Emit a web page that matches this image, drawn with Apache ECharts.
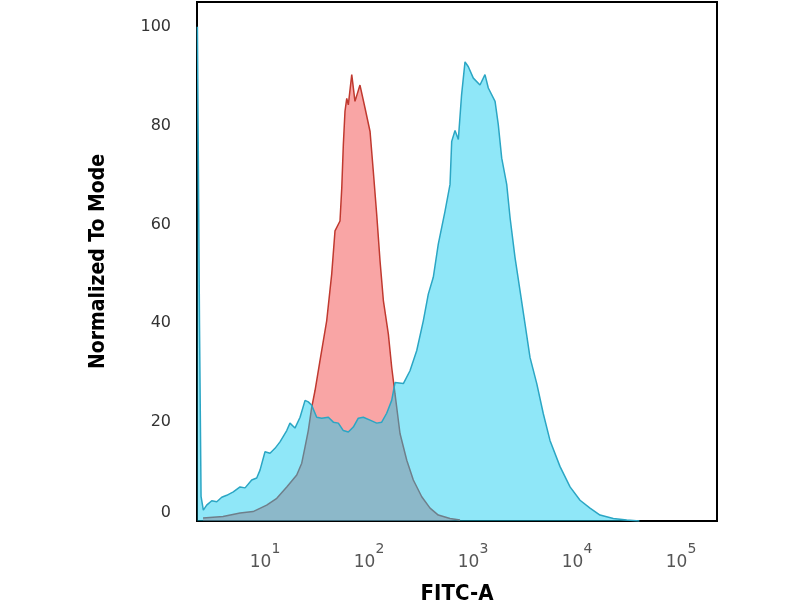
<!DOCTYPE html>
<html lang="en">
<head>
  <meta charset="UTF-8">
  <title>FITC-A histogram</title>
  <script src="https://cdn.jsdelivr.net/npm/echarts@6/dist/echarts.min.js"></script>
  <style>
    html, body { margin: 0; padding: 0; background: #fff; }
  </style>
</head>
<body>
  <div id="main" style="width:800px;height:600px;"></div>
  <script>
    // x positions are log10(FITC-A), y is % of mode
    var isoLog = [0.404, 0.596, 0.76, 0.885, 1.016, 1.113, 1.209, 1.305, 1.353, 1.385,
      1.416, 1.449, 1.481, 1.529, 1.593, 1.641, 1.673, 1.721, 1.738, 1.753,
      1.769, 1.786, 1.801, 1.834, 1.865, 1.913, 1.962, 2.01, 2.041, 2.074,
      2.106, 2.138, 2.186, 2.218, 2.25, 2.298, 2.363, 2.426, 2.507, 2.587,
      2.666, 2.779, 2.875];
    var isoVal = [0.6, 0.9, 1.6, 1.9, 3.2, 4.6, 6.9, 9.3, 11.7, 15.0,
      18.3, 23.0, 26.4, 32.5, 40.5, 49.9, 58.7, 60.7, 67.4, 76.1,
      82.9, 85.5, 84.2, 90.3, 84.9, 88.2, 83.5, 78.8, 70.8, 62.0,
      52.6, 44.6, 37.8, 31.1, 25.7, 17.7, 12.3, 8.3, 4.9, 2.6,
      1.2, 0.5, 0.2];

    var sampleLog = [0.35, 0.37, 0.385, 0.407, 0.439, 0.488, 0.536, 0.584, 0.632, 0.695,
      0.76, 0.808, 0.872, 0.92, 0.952, 1.0, 1.048, 1.096, 1.144, 1.209,
      1.24, 1.288, 1.337, 1.385, 1.416, 1.449, 1.497, 1.545, 1.609, 1.657,
      1.705, 1.753, 1.801, 1.849, 1.897, 1.945, 2.01, 2.074, 2.122, 2.17,
      2.218, 2.25, 2.33, 2.394, 2.459, 2.522, 2.57, 2.618, 2.666, 2.731,
      2.779, 2.795, 2.827, 2.859, 2.89, 2.923, 2.955, 3.003, 3.067, 3.115,
      3.147, 3.212, 3.243, 3.276, 3.324, 3.356, 3.404, 3.452, 3.5, 3.548,
      3.613, 3.676, 3.74, 3.837, 3.933, 4.029, 4.125, 4.221, 4.349, 4.478, 4.6];
    var sampleVal = [100, 40, 5, 2.2, 3.2, 4.1, 3.9, 4.8, 5.2, 5.9,
      6.9, 6.7, 8.3, 8.7, 10.3, 14.0, 13.7, 14.7, 16.0, 18.3,
      19.8, 18.8, 21.0, 24.4, 24.1, 23.4, 21.0, 20.8, 21.0, 20.0,
      19.8, 18.3, 18.0, 19.0, 20.8, 21.0, 20.4, 19.8, 20.0, 21.8,
      24.4, 28.0, 27.8, 30.4, 34.5, 40.5, 45.9, 49.3, 56.0, 62.7,
      68.1, 76.8, 79.0, 77.2, 86.2, 92.9, 91.9, 89.6, 88.2, 90.3,
      87.6, 84.9, 80.2, 73.4, 68.1, 61.4, 53.3, 46.6, 39.9, 33.1,
      27.8, 21.7, 16.3, 11.0, 6.9, 4.2, 2.6, 1.2, 0.5, 0.2, 0];

    var yTicks = [0, 20, 40, 60, 80, 100];
    var xDecades = [1, 2, 3, 4, 5];

    function pairs(lx, vals) {
      var out = [];
      for (var i = 0; i < lx.length; i++) {
        out.push([Math.pow(10, lx[i]), vals[i]]);
      }
      return out;
    }

    var chart = echarts.init(document.getElementById('main'));
    var option = {
      animation: false,
      backgroundColor: '#fff',
      grid: {
        left: 197, right: 83, top: 2, bottom: 79,
        outerBoundsMode: 'none',
        containLabel: false,
        show: true, borderColor: '#000', borderWidth: 2
      },
      xAxis: {
        type: 'log',
        logBase: 10,
        min: Math.pow(10, 0.346),
        max: Math.pow(10, 5.346),
        name: 'FITC-A',
        nameLocation: 'middle',
        nameGap: 62,
        nameTextStyle: {
          fontFamily: 'DejaVu Sans Condensed', fontWeight: 'bold',
          fontSize: 22, color: '#000'
        },
        axisLine: { show: true, lineStyle: { color: '#000', width: 2 } },
        axisTick: { show: false },
        splitLine: { show: false },
        axisLabel: {
          showMinLabel: false,
          showMaxLabel: false,
          margin: 21,
          formatter: function (v) {
            var e = Math.round(Math.log(v) / Math.LN10);
            if (xDecades.indexOf(e) < 0) return '';
            return '{b|10}{s|' + e + '}';
          },
          rich: {
            b: { fontFamily: 'DejaVu Sans', fontSize: 17, color: '#555', padding: [12, 0, 0, 0] },
            s: { fontFamily: 'DejaVu Sans', fontSize: 14, color: '#555', verticalAlign: 'top' }
          }
        }
      },
      yAxis: {
        type: 'value',
        min: 0,
        max: 105,
        interval: 20,
        name: 'Normalized To Mode',
        nameLocation: 'middle',
        nameGap: 88,
        nameTextStyle: {
          fontFamily: 'DejaVu Sans Condensed', fontWeight: 'bold',
          fontSize: 21, color: '#000'
        },
        axisLine: { show: true, lineStyle: { color: '#000', width: 2 } },
        axisTick: { show: false },
        splitLine: { show: false },
        axisLabel: {
          margin: 26,
          showMaxLabel: false,
          fontFamily: 'DejaVu Sans',
          fontSize: 16,
          color: '#333',
          formatter: function (v) {
            if (yTicks.indexOf(v) < 0) return '';
            return v === 0 ? '{z|0}' : String(v);
          },
          rich: {
            z: { fontFamily: 'DejaVu Sans', fontSize: 16, color: '#333', padding: [0, 0, 16, 0] }
          }
        }
      },
      series: [
        {
          name: 'Isotype',
          type: 'line',
          showSymbol: false,
          data: pairs(isoLog, isoVal),
          lineStyle: { color: '#c0392f', width: 1.5 },
          areaStyle: { color: 'rgba(240,40,40,0.42)', opacity: 1 },
          z: 2
        },
        {
          name: 'Sample',
          type: 'line',
          showSymbol: false,
          data: pairs(sampleLog, sampleVal),
          lineStyle: { color: '#2ba6c4', width: 1.5 },
          areaStyle: { color: 'rgba(20,205,240,0.48)', opacity: 1 },
          z: 3
        }
      ]
    };
    chart.setOption(option);
  </script>
</body>
</html>
